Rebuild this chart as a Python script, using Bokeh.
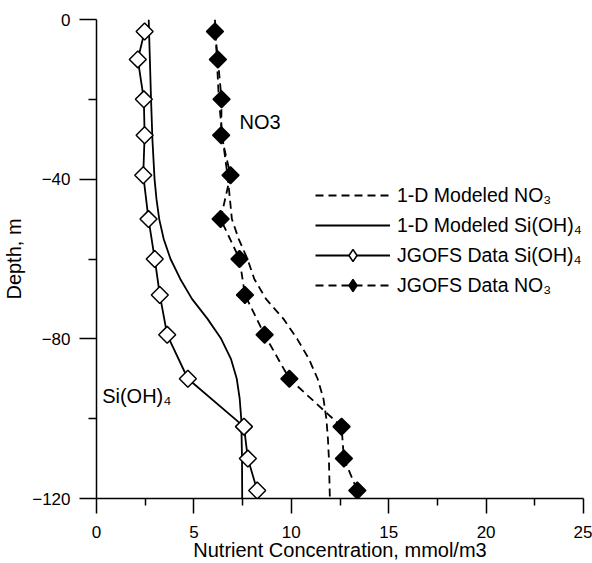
import numpy as np
from bokeh.plotting import figure
from bokeh.models import Range1d, FixedTicker, Legend, LegendItem, Label
from bokeh.embed import file_html
from bokeh.resources import INLINE

# ---- data ----
depth_data = [-3, -10, -20, -29, -39, -50, -60, -69, -79, -90, -102, -110, -118]
no3_data = [6.08, 6.23, 6.42, 6.40, 6.88, 6.37, 7.34, 7.62, 8.63, 9.90, 12.58, 12.70, 13.39]
si_data = [2.47, 2.12, 2.43, 2.47, 2.40, 2.67, 2.99, 3.25, 3.63, 4.69, 7.57, 7.77, 8.25]

depth_si_model = [0, -10, -20, -30, -40, -45, -50, -55, -60, -65, -70, -75, -80, -85, -90, -95, -100, -110, -120]
si_model = [2.68, 2.74, 2.80, 2.87, 2.98, 3.08, 3.22, 3.45, 3.80, 4.30, 4.90, 5.70, 6.40, 6.90, 7.20, 7.35, 7.43, 7.47, 7.48]

depth_no3_model = [0, -10, -20, -30, -40, -50, -55, -60, -65, -70, -75, -80, -85, -90, -95, -100, -105, -110, -120]
no3_model = [6.08, 6.18, 6.28, 6.48, 6.75, 6.95, 7.30, 7.75, 8.10, 8.70, 9.60, 10.30, 10.90, 11.35, 11.65, 11.80, 11.88, 11.93, 11.98]

x_ticks = [0, 5, 10, 15, 20, 25]
x_minor = [2.5, 7.5, 12.5, 17.5, 22.5]
y_ticks = [0, -40, -80, -120]
y_minor = [-20, -60, -100]
x_title = "Nutrient Concentration, mmol/m3"
y_title = "Depth, m"

FONT = "Liberation Sans"

p = figure(width=592, height=563, output_backend="svg", toolbar_location=None,
           x_range=Range1d(0, 25), y_range=Range1d(-120, 0),
           min_border_left=96, min_border_right=9, min_border_top=19, min_border_bottom=65)
p.outline_line_color = None
p.xgrid.visible = False
p.ygrid.visible = False
p.background_fill_color = "white"

xa = p.xaxis[0]
xa.ticker = FixedTicker(ticks=x_ticks, minor_ticks=x_minor)
xa.axis_label = x_title
ya = p.yaxis[0]
ya.ticker = FixedTicker(ticks=y_ticks, minor_ticks=y_minor)
ya.axis_label = y_title
for ax in (xa, ya):
    ax.axis_line_color = "black"
    ax.axis_line_width = 1.5
    ax.major_tick_line_color = "black"
    ax.minor_tick_line_color = "black"
    ax.major_tick_line_width = 1.5
    ax.minor_tick_line_width = 1.5
    ax.major_tick_in = 0
    ax.minor_tick_in = 0
    ax.major_label_text_font = FONT
    ax.major_label_text_font_size = "17px"
    ax.major_label_text_color = "black"
    ax.axis_label_text_font = FONT
    ax.axis_label_text_font_size = "20px"
    ax.axis_label_text_font_style = "normal"
    ax.axis_label_text_color = "black"
xa.major_tick_out = 15
xa.minor_tick_out = 7
xa.major_label_standoff = 12
xa.axis_label_standoff = -2
ya.major_tick_out = 17
ya.minor_tick_out = 8
ya.major_label_standoff = 9
ya.axis_label_standoff = 4

lw = 1.8
r_no3m = p.line(no3_model, depth_no3_model, line_color="black", line_width=lw, line_dash="8 5")
r_sim = p.line(si_model, depth_si_model, line_color="black", line_width=lw)
r_sil = p.line(si_data, depth_data, line_color="black", line_width=lw)
p.scatter(si_data, depth_data, marker="square", angle=np.pi / 4, size=12,
          fill_color="white", line_color="black", line_width=1.5)
r_nol = p.line(no3_data, depth_data, line_color="black", line_width=lw, line_dash="8 5")
p.scatter(no3_data, depth_data, marker="square", angle=np.pi / 4, size=12,
          fill_color="black", line_color="black", line_width=1.5)
# legend-only diamond glyphs (legend ignores marker angle)
r_sid = p.scatter(si_data, depth_data, marker="diamond", size=12, fill_color="white",
                  line_color="black", line_width=1.5, visible=False)
r_nod = p.scatter(no3_data, depth_data, marker="diamond", size=12, fill_color="black",
                  line_color="black", line_width=1.5, visible=False)

legend = Legend(items=[
    LegendItem(label="1-D Modeled NO\u2083", renderers=[r_no3m]),
    LegendItem(label="1-D Modeled Si(OH)\u2084", renderers=[r_sim]),
    LegendItem(label="JGOFS Data Si(OH)\u2084", renderers=[r_sil, r_sid]),
    LegendItem(label="JGOFS Data NO\u2083", renderers=[r_nol, r_nod]),
], location=(219, 198))
legend.glyph_width = 75
legend.glyph_height = 30
legend.label_height = 30
legend.spacing = 0
legend.padding = 0
legend.margin = 0
legend.label_standoff = 7
legend.border_line_color = None
legend.background_fill_alpha = 0
legend.inactive_fill_alpha = 0
legend.label_text_font = FONT
legend.label_text_font_size = "19.5px"
legend.label_text_color = "black"
legend.label_text_baseline = "middle"
p.add_layout(legend, "center")

p.add_layout(Label(x=7.34, y=-25.7, text="NO3", text_font=FONT, text_font_size="20px",
                   text_baseline="middle", text_align="left", text_color="black"))
p.add_layout(Label(x=0.29, y=-94.2, text="Si(OH)\u2084", text_font=FONT, text_font_size="20px",
                   text_baseline="middle", text_align="left", text_color="black"))

open("out.html", "w").write(file_html(p, INLINE))
